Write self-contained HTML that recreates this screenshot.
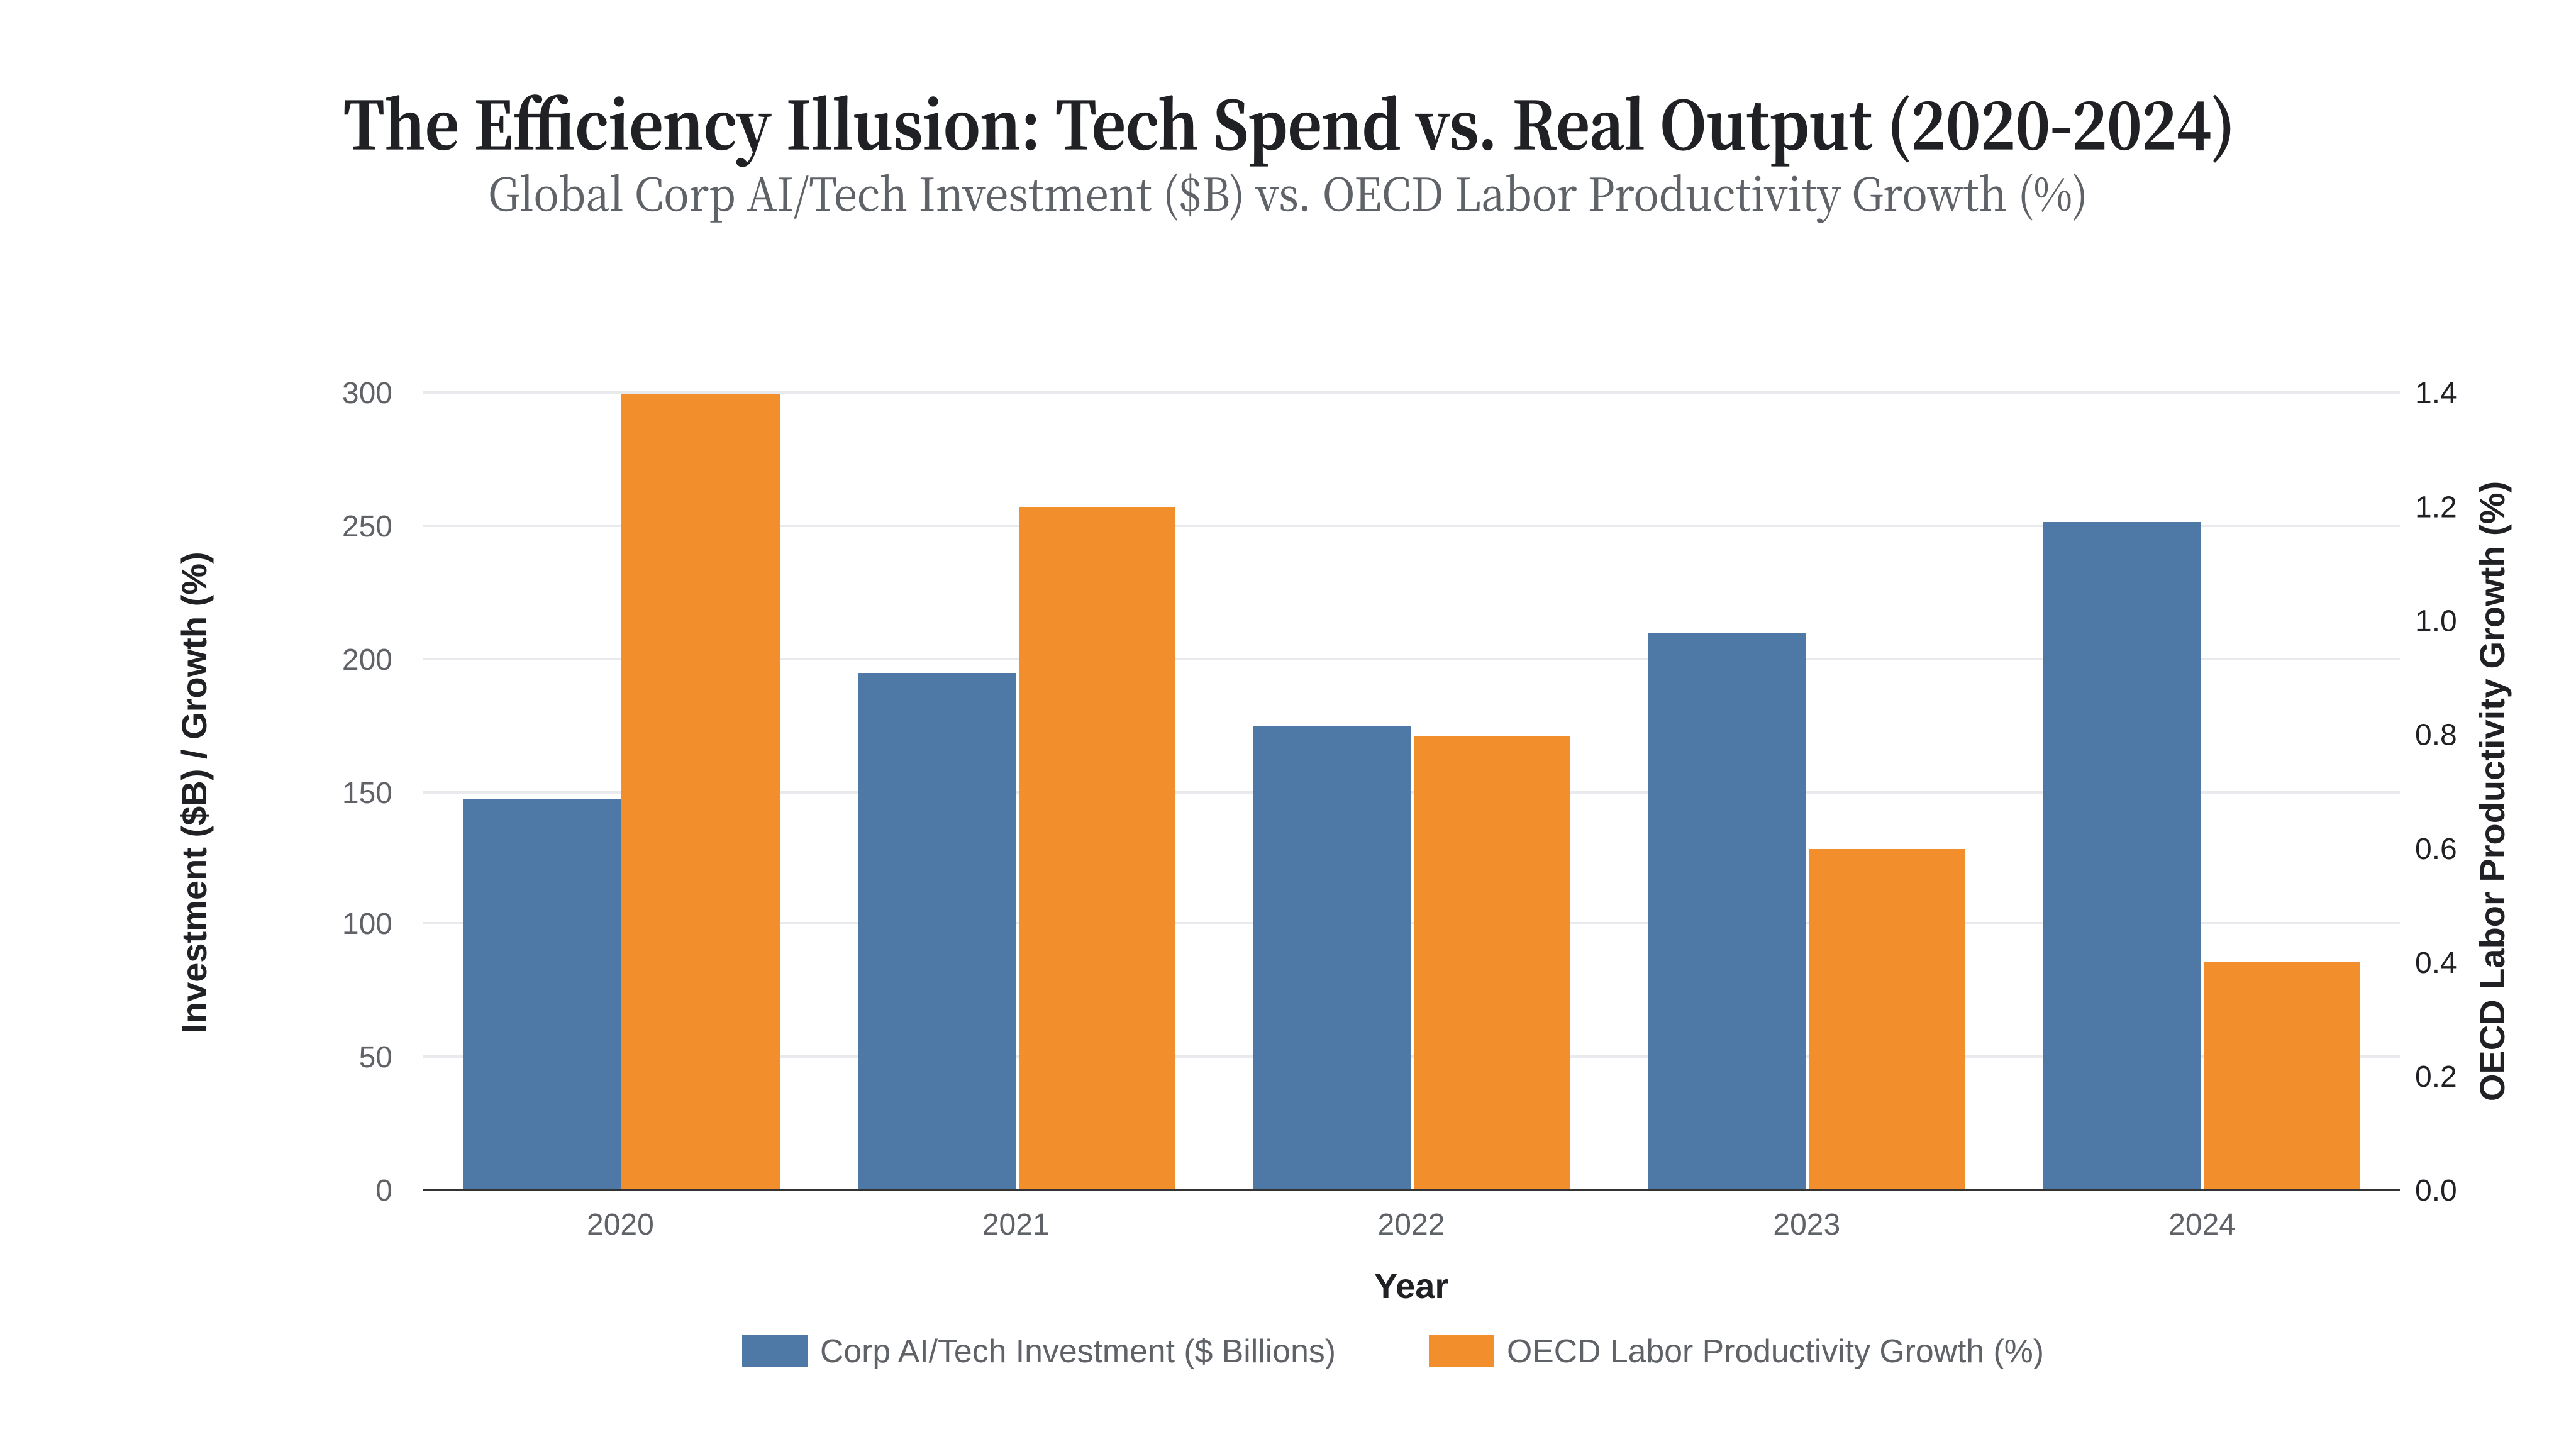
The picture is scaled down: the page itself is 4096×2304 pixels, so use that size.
<!DOCTYPE html>
<html lang="en">
<head>
<meta charset="utf-8">
<title>The Efficiency Illusion: Tech Spend vs. Real Output (2020-2024)</title>
<style>
  html, body { margin: 0; padding: 0; background: #ffffff; }
  svg { display: block; width: 4096px; height: 2304px; }
  text { font-family: "Liberation Sans", Arial, sans-serif; }
  .serif { font-family: "Noto Serif CJK SC", "Liberation Serif", serif; }
</style>
</head>
<body>
<svg id="chart" xmlns="http://www.w3.org/2000/svg" width="4096" height="2304" viewBox="0 0 1024 576">
  <rect x="0" y="0" width="1024" height="576" fill="#ffffff"/>
  <text class="serif" x="512.5" y="59.2" text-anchor="middle" font-size="26" font-weight="700" fill="#202124" stroke="#202124" stroke-width="0.3" textLength="752" lengthAdjust="spacingAndGlyphs">The Efficiency Illusion: Tech Spend vs. Real Output (2020-2024)</text>
  <text class="serif" x="512" y="83.8" text-anchor="middle" font-size="18" fill="#5f6368" stroke="#5f6368" stroke-width="0.1" textLength="636" lengthAdjust="spacingAndGlyphs">Global Corp AI/Tech Investment ($B) vs. OECD Labor Productivity Growth (%)</text>
  <g id="grid"></g>
  <g id="bars"></g>
  <g id="axes"></g>
  <text x="561" y="516" text-anchor="middle" font-size="14" font-weight="700" fill="#202124">Year</text>
  <text transform="translate(82,315) rotate(-90)" text-anchor="middle" font-size="14" font-weight="700" fill="#202124">Investment ($B) / Growth (%)</text>
  <text transform="translate(995.5,314.5) rotate(-90)" text-anchor="middle" font-size="14" font-weight="700" fill="#202124">OECD Labor Productivity Growth (%)</text>
  <g>
    <g>
      <rect x="295" y="530.5" width="26" height="13" fill="#4e79a7"/>
      <text x="326" y="541.5" font-size="13" fill="#5f6368" textLength="205" lengthAdjust="spacingAndGlyphs">Corp AI/Tech Investment ($ Billions)</text>
    </g>
    <g>
      <rect x="568" y="530.5" width="26" height="13" fill="#f28e2b"/>
      <text x="599" y="541.5" font-size="13" fill="#5f6368" textLength="213.5" lengthAdjust="spacingAndGlyphs">OECD Labor Productivity Growth (%)</text>
    </g>
  </g>
</svg>
<script>
const categories = ["2020", "2021", "2022", "2023", "2024"];
const investmentValues = [148, 195, 175, 210, 252];
const productivityValues = [1.4, 1.2, 0.8, 0.6, 0.4];
const leftTickValues = [0, 50, 100, 150, 200, 250, 300];
const rightTickLabels = ["0.0", "0.2", "0.4", "0.6", "0.8", "1.0", "1.2", "1.4"];
const leftDomainMax = 300;
const rightDomainMax = 1.4;

const SVG_NS = "http://www.w3.org/2000/svg";
const plot = { left: 168, right: 954, top: 156, bottom: 473, offset: 0.4 };

function yLeft(v) { return plot.bottom - (v / leftDomainMax) * (plot.bottom - plot.top); }
function yRight(v) { return plot.bottom - (v / rightDomainMax) * (plot.bottom - plot.top); }
function bandMiddle(i) {
  const band = (plot.right - plot.left) / categories.length;
  return plot.left + band * (i + 0.5);
}
function bandCenter(i) {
  return Math.round((bandMiddle(i) + plot.offset) * 1e6) / 1e6;
}
function make(tag, attrs, text) {
  const el = document.createElementNS(SVG_NS, tag);
  Object.keys(attrs).forEach(function (k) { el.setAttribute(k, attrs[k]); });
  if (text !== undefined) el.textContent = text;
  return el;
}

const gridLayer = document.getElementById("grid");
const barLayer = document.getElementById("bars");
const axisLayer = document.getElementById("axes");

leftTickValues.forEach(function (v) {
  const y = Math.round(yLeft(v));
  if (v !== 0) {
    const line = make("rect", { x: plot.left, y: y - 0.5, width: plot.right - plot.left, height: 1, fill: "#e8eaed" });
    
    
    gridLayer.appendChild(line);
  }
  const label = make("text", { x: 156, y: y + 4.3, "text-anchor": "end", "font-size": 12, fill: "#5f6368" }, String(v));
  
  
  axisLayer.appendChild(label);
});

rightTickLabels.forEach(function (t) {
  const y = yRight(parseFloat(t));
  const label = make("text", { x: 960, y: y + 4.3, "font-size": 12, fill: "#202124" }, t);
  
  
  axisLayer.appendChild(label);
});

categories.forEach(function (cat, i) {
  const c = bandCenter(i);
  const halfWidth = 63;
  const barBottom = plot.bottom - 0.5;

  const x0 = Math.floor(c - halfWidth);
  const x1 = Math.floor(c);
  const topA = Math.round(yLeft(investmentValues[i])) + 0.5;
  const barA = make("rect", { x: x0, y: topA, width: x1 - x0, height: barBottom - topA, fill: "#4e79a7" });
  
  
  barLayer.appendChild(barA);

  const x2 = Math.ceil(c);
  const x3 = Math.floor(c + halfWidth);
  const topB = Math.round(yRight(productivityValues[i])) + 0.5;
  const barB = make("rect", { x: x2, y: topB, width: x3 - x2, height: barBottom - topB, fill: "#f28e2b" });
  
  
  barLayer.appendChild(barB);

  const label = make("text", { x: bandMiddle(i), y: 490.7, "text-anchor": "middle", "font-size": 12, fill: "#5f6368" }, cat);
  
  
  axisLayer.appendChild(label);
});

const xAxis = make("rect", { x: plot.left, y: plot.bottom - 0.5, width: plot.right - plot.left, height: 1, fill: "#333333" });


axisLayer.appendChild(xAxis);
</script>
</body>
</html>
